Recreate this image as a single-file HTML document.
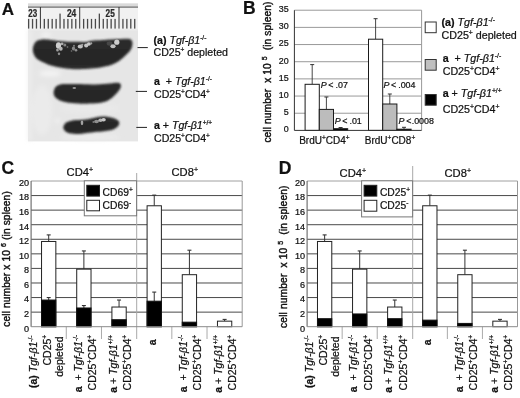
<!DOCTYPE html>
<html><head><meta charset="utf-8"><style>
html,body{margin:0;padding:0;background:#fff;width:520px;height:398px;overflow:hidden;}
svg{display:block;filter:blur(0.35px);}
text{font-family:"Liberation Sans", sans-serif;stroke:#111;stroke-width:0.22px;}
</style></head><body>
<svg width="520" height="398" viewBox="0 0 520 398" font-family='"Liberation Sans", sans-serif' fill="#111">
<defs><linearGradient id="pg" x1="0" y1="0" x2="1" y2="0"><stop offset="0" stop-color="#d9d9d9"/><stop offset="0.1" stop-color="#e4e4e4"/><stop offset="0.85" stop-color="#e2e2e2"/><stop offset="1" stop-color="#cfcfcf"/></linearGradient>
<linearGradient id="sg" x1="0" y1="0" x2="0" y2="1"><stop offset="0" stop-color="#2e2e2e"/><stop offset="0.5" stop-color="#262626"/><stop offset="1" stop-color="#2a2a2a"/></linearGradient><filter id="bl" x="-10%" y="-20%" width="120%" height="140%"><feGaussianBlur stdDeviation="0.8"/></filter>
<filter id="bl2" x="-50%" y="-50%" width="200%" height="200%"><feGaussianBlur stdDeviation="0.7"/></filter><filter id="bl4" x="-50%" y="-50%" width="200%" height="200%"><feGaussianBlur stdDeviation="2"/></filter></defs>
<rect width="520" height="398" fill="#fff"/>
<text x="1.8" y="14.5" font-size="17" font-weight="bold">A</text>
<rect x="28" y="3.5" width="110" height="137.9" fill="#e6e6e6"/>
<g filter="url(#bl4)">
<rect x="28" y="30" width="3" height="111" fill="#eeeeee"/>
<ellipse cx="50" cy="73.5" rx="11" ry="2.8" fill="#f4f4f4"/>
<ellipse cx="46" cy="35" rx="5" ry="3" fill="#f0f0f0"/>
<ellipse cx="90" cy="108" rx="30" ry="5" fill="#e9e9e9"/>
<ellipse cx="90" cy="137" rx="30" ry="3" fill="#ececec"/>
<ellipse cx="42" cy="110" rx="10" ry="25" fill="#ebebeb"/>
<ellipse cx="57.5" cy="120.7" rx="2" ry="2" fill="#f6f6f6"/>
</g>
<rect x="28" y="3.5" width="110" height="3.5" fill="#dadada"/>
<rect x="28" y="7.5" width="110" height="21.5" fill="#f1f1f1"/>
<rect x="28" y="29" width="110" height="1.5" fill="#ebebeb"/>
<rect x="28" y="6.6" width="110" height="1" fill="#555"/>
<rect x="27.96" y="18.9" width="1.3" height="9.7" fill="#4a4a4a"/>
<rect x="31.89" y="18.9" width="1.3" height="9.7" fill="#4a4a4a"/>
<rect x="35.82" y="18.9" width="1.3" height="9.7" fill="#4a4a4a"/>
<rect x="39.9" y="7" width="1" height="21.6" fill="#333"/>
<rect x="43.68" y="18.9" width="1.3" height="9.7" fill="#4a4a4a"/>
<rect x="47.61" y="18.9" width="1.3" height="9.7" fill="#4a4a4a"/>
<rect x="51.54" y="18.9" width="1.3" height="9.7" fill="#4a4a4a"/>
<rect x="55.47" y="18.9" width="1.3" height="9.7" fill="#4a4a4a"/>
<rect x="59.4" y="13.6" width="1.3" height="15" fill="#4a4a4a"/>
<rect x="63.33" y="18.9" width="1.3" height="9.7" fill="#4a4a4a"/>
<rect x="67.26" y="18.9" width="1.3" height="9.7" fill="#4a4a4a"/>
<rect x="71.19" y="18.9" width="1.3" height="9.7" fill="#4a4a4a"/>
<rect x="75.12" y="18.9" width="1.3" height="9.7" fill="#4a4a4a"/>
<rect x="79.2" y="7" width="1" height="21.6" fill="#333"/>
<rect x="82.98" y="18.9" width="1.3" height="9.7" fill="#4a4a4a"/>
<rect x="86.91" y="18.9" width="1.3" height="9.7" fill="#4a4a4a"/>
<rect x="90.84" y="18.9" width="1.3" height="9.7" fill="#4a4a4a"/>
<rect x="94.77" y="18.9" width="1.3" height="9.7" fill="#4a4a4a"/>
<rect x="98.7" y="13.6" width="1.3" height="15" fill="#4a4a4a"/>
<rect x="102.63" y="18.9" width="1.3" height="9.7" fill="#4a4a4a"/>
<rect x="106.56" y="18.9" width="1.3" height="9.7" fill="#4a4a4a"/>
<rect x="110.49" y="18.9" width="1.3" height="9.7" fill="#4a4a4a"/>
<rect x="114.42" y="18.9" width="1.3" height="9.7" fill="#4a4a4a"/>
<rect x="118.5" y="7" width="1" height="21.6" fill="#333"/>
<rect x="122.28" y="18.9" width="1.3" height="9.7" fill="#4a4a4a"/>
<rect x="126.21" y="18.9" width="1.3" height="9.7" fill="#4a4a4a"/>
<rect x="130.14" y="18.9" width="1.3" height="9.7" fill="#4a4a4a"/>
<rect x="134.07" y="18.9" width="1.3" height="9.7" fill="#4a4a4a"/>
<g font-size="10.6" font-weight="bold" fill="#2a2a2a">
<text x="28.3" y="16.8" textLength="8.9" lengthAdjust="spacingAndGlyphs">23</text>
<text x="66.9" y="16.8" textLength="9.4" lengthAdjust="spacingAndGlyphs">24</text>
<text x="105.6" y="16.8" textLength="9.2" lengthAdjust="spacingAndGlyphs">25</text>
</g>
<g filter="url(#bl)" fill="url(#sg)">
<path d="M32.8,50.5 C32.6,48.5 33.3,46.1 34.0,44.5 C34.7,42.9 35.7,41.6 37.0,40.8 C38.3,39.9 39.7,39.5 42.0,39.4 C44.3,39.2 47.6,39.6 51.0,39.9 C54.4,40.2 58.8,40.9 62.6,41.2 C66.4,41.5 70.2,41.7 74.0,41.8 C77.8,41.9 82.8,42.1 85.7,41.9 C88.6,41.7 88.6,41.0 91.5,40.7 C94.4,40.4 99.2,40.1 103.0,39.9 C106.8,39.6 110.8,39.4 114.6,39.2 C118.4,39.0 123.4,38.7 126.0,38.7 C128.6,38.7 129.2,38.6 130.3,39.3 C131.4,40.0 132.4,41.1 132.5,42.7 C132.6,44.4 132.1,47.2 131.0,49.2 C129.9,51.2 128.0,53.0 126.2,54.8 C124.4,56.6 122.3,58.5 120.4,60.0 C118.5,61.5 116.5,62.5 114.6,63.5 C112.7,64.5 110.7,65.2 108.8,65.8 C106.9,66.4 105.9,66.4 103.0,66.9 C100.1,67.4 95.3,68.2 91.5,68.6 C87.7,69.0 82.9,69.1 80.0,69.2 C77.1,69.3 77.1,69.4 74.2,69.2 C71.3,69.0 66.5,68.6 62.6,68.0 C58.7,67.4 54.9,66.8 51.0,65.6 C47.1,64.4 42.2,62.1 39.5,60.6 C36.8,59.1 36.1,58.2 35.0,56.5 C33.9,54.8 33.0,52.5 32.8,50.5 Z"/>
<path d="M53.6,92.5 C53.7,90.8 54.4,88.3 55.5,87.0 C56.6,85.7 58.2,85.0 60.0,84.5 C61.8,84.0 63.1,84.1 66.0,84.0 C68.9,83.9 72.9,84.0 77.2,84.1 C81.5,84.2 86.9,84.5 91.8,84.5 C96.7,84.5 102.3,84.1 106.5,83.8 C110.7,83.5 114.4,82.8 116.7,82.8 C119.0,82.8 119.6,83.1 120.3,83.8 C121.0,84.5 121.1,85.7 120.8,87.0 C120.5,88.3 119.6,89.8 118.2,91.5 C116.8,93.2 114.2,95.9 112.3,97.5 C110.3,99.1 108.7,100.3 106.5,101.2 C104.3,102.1 101.7,102.5 99.2,102.9 C96.8,103.3 95.5,103.3 91.8,103.4 C88.1,103.5 81.5,103.8 77.2,103.6 C72.9,103.4 69.0,102.9 66.0,102.3 C63.0,101.7 60.8,100.9 59.0,100.0 C57.2,99.1 55.9,98.2 55.0,97.0 C54.1,95.8 53.5,94.2 53.6,92.5 Z"/>
<path d="M63.3,127.0 C63.4,125.8 64.5,124.0 65.5,123.0 C66.5,122.0 67.9,121.7 69.5,121.2 C71.1,120.7 73.1,120.3 75.2,120.1 C77.3,119.8 79.7,119.9 81.9,119.7 C84.1,119.5 86.3,119.4 88.6,119.0 C90.8,118.6 93.2,117.8 95.4,117.4 C97.7,117.0 99.9,116.7 102.1,116.6 C104.3,116.5 106.7,116.7 108.8,117.0 C110.9,117.3 113.0,117.9 114.6,118.6 C116.2,119.3 117.8,120.1 118.6,121.0 C119.4,121.9 119.5,123.0 119.2,124.0 C118.9,125.0 118.2,126.3 116.9,127.3 C115.6,128.3 114.0,129.4 111.5,130.1 C109.0,130.8 104.8,131.2 102.1,131.5 C99.4,131.8 97.7,131.7 95.4,131.9 C93.2,132.1 90.8,132.5 88.6,132.8 C86.3,133.1 84.1,133.5 81.9,133.7 C79.7,133.9 77.4,134.1 75.2,134.0 C73.0,133.9 70.3,133.7 68.5,133.1 C66.7,132.5 65.5,131.5 64.6,130.5 C63.7,129.5 63.1,128.2 63.3,127.0 Z"/>
</g>
<g filter="url(#bl2)">
<ellipse cx="58.5" cy="45.5" rx="2.6" ry="3.2" fill="#cfcfcf"/>
<ellipse cx="60.8" cy="48.8" rx="1.9" ry="2.0" fill="#b8b8b8"/>
<ellipse cx="57.5" cy="50" rx="1.4" ry="1.6" fill="#a0a0a0"/>
<ellipse cx="59" cy="53.8" rx="1.2" ry="1.4" fill="#909090"/>
<ellipse cx="62" cy="43.8" rx="1.5" ry="1.4" fill="#b0b0b0"/>
<ellipse cx="64.8" cy="45" rx="1.5" ry="1.6" fill="#858585"/>
<ellipse cx="67.5" cy="47" rx="0.9" ry="0.9" fill="#6a6a6a"/>
<ellipse cx="73.5" cy="48.5" rx="1.6" ry="2.0" fill="#888"/>
<ellipse cx="76" cy="50.3" rx="1.3" ry="1.3" fill="#909090"/>
<ellipse cx="74" cy="45.8" rx="1.1" ry="1.1" fill="#7a7a7a"/>
<ellipse cx="71.5" cy="51" rx="0.8" ry="0.8" fill="#777"/>
<ellipse cx="80.3" cy="46.5" rx="2.6" ry="2.0" fill="#c0c0c0"/>
<ellipse cx="82.2" cy="44.8" rx="1.2" ry="1.1" fill="#a0a0a0"/>
<ellipse cx="86.2" cy="45.5" rx="2.1" ry="2.0" fill="#c4c4c4"/>
<ellipse cx="88.9" cy="44" rx="2.0" ry="1.8" fill="#c8c8c8"/>
<ellipse cx="91.2" cy="43.4" rx="1.1" ry="1.1" fill="#a0a0a0"/>
<ellipse cx="109.5" cy="43.5" rx="2.8" ry="2.2" fill="#474747"/>
<ellipse cx="116.8" cy="42.2" rx="2.6" ry="2.6" fill="#cdcdcd"/>
<ellipse cx="113" cy="46.3" rx="2.6" ry="2.0" fill="#c0c0c0"/>
<ellipse cx="74.3" cy="88" rx="1.8" ry="1.0" fill="#959595"/>
<ellipse cx="82" cy="122.8" rx="1.3" ry="2.4" fill="#a2a2a2"/>
<ellipse cx="96.5" cy="121.5" rx="2.4" ry="1.8" fill="#909090"/>
<ellipse cx="100.5" cy="120.2" rx="2.2" ry="1.7" fill="#b2b2b2"/>
<ellipse cx="103.6" cy="119.8" rx="2.2" ry="1.8" fill="#c6c6c6"/>
<ellipse cx="93.5" cy="122" rx="1.1" ry="1.1" fill="#7a7a7a"/>
</g>
<g stroke="#222" stroke-width="1">
<line x1="137.5" y1="47.6" x2="147.8" y2="47.6"/>
<line x1="135.8" y1="91.4" x2="147" y2="91.4"/>
<line x1="136.3" y1="127.4" x2="147" y2="127.4"/>
</g>
<g font-size="10.6">
<text x="153.5" y="43.5"><tspan font-weight="bold">(a)</tspan> <tspan font-style="italic">Tgf-β1</tspan><tspan font-size="6.5" dy="-4">-/-</tspan></text>
<text x="153.5" y="55.5">CD25<tspan font-size="6.5" dy="-4">+</tspan><tspan dy="4"> depleted</tspan></text>
<text x="154" y="85"><tspan font-weight="bold">a</tspan>&#160; + <tspan font-style="italic">Tgf-β1</tspan><tspan font-size="6.5" dy="-4">-/-</tspan></text>
<text x="154" y="97.5">CD25<tspan font-size="6.5" dy="-4">+</tspan><tspan dy="4">CD4</tspan><tspan font-size="6.5" dy="-4">+</tspan></text>
<text x="154" y="128.7"><tspan font-weight="bold">a</tspan> + <tspan font-style="italic">Tgf-β1</tspan><tspan font-size="6.5" dy="-4">+/+</tspan></text>
<text x="154" y="141.5">CD25<tspan font-size="6.5" dy="-4">+</tspan><tspan dy="4">CD4</tspan><tspan font-size="6.5" dy="-4">+</tspan></text>
</g>
<text x="242.9" y="13.8" font-size="17.5" font-weight="bold">B</text>
<g stroke="#999" stroke-width="1">
<line x1="294.4" y1="113.23" x2="421.6" y2="113.23"/>
<line x1="294.4" y1="96.06" x2="421.6" y2="96.06"/>
<line x1="294.4" y1="78.89" x2="421.6" y2="78.89"/>
<line x1="294.4" y1="61.72" x2="421.6" y2="61.72"/>
<line x1="294.4" y1="44.55" x2="421.6" y2="44.55"/>
<line x1="294.4" y1="27.38" x2="421.6" y2="27.38"/>
<line x1="294.4" y1="10.21" x2="421.6" y2="10.21"/>
<line x1="421.6" y1="10.21" x2="421.6" y2="130.4"/>
</g>
<line x1="312.2" y1="84.3" x2="312.2" y2="64.6" stroke="#333" stroke-width="0.9"/>
<line x1="310.2" y1="64.6" x2="314.2" y2="64.6" stroke="#333" stroke-width="1"/>
<rect x="305.1" y="84.3" width="14.2" height="46.1" fill="#fff" stroke="#1a1a1a" stroke-width="1"/>
<line x1="326.4" y1="109.4" x2="326.4" y2="97" stroke="#333" stroke-width="0.9"/>
<line x1="324.4" y1="97" x2="328.4" y2="97" stroke="#333" stroke-width="1"/>
<rect x="319.3" y="109.4" width="14.2" height="21" fill="#bcbcbc" stroke="#1a1a1a" stroke-width="1"/>
<line x1="340.6" y1="128.7" x2="340.6" y2="127.5" stroke="#333" stroke-width="0.9"/>
<line x1="338.6" y1="127.5" x2="342.6" y2="127.5" stroke="#333" stroke-width="1"/>
<rect x="333.5" y="128.7" width="14.2" height="1.7" fill="#000" stroke="#1a1a1a" stroke-width="1"/>
<line x1="375.6" y1="39.2" x2="375.6" y2="18.7" stroke="#333" stroke-width="0.9"/>
<line x1="373.6" y1="18.7" x2="377.6" y2="18.7" stroke="#333" stroke-width="1"/>
<rect x="368.5" y="39.2" width="14.2" height="91.2" fill="#fff" stroke="#1a1a1a" stroke-width="1"/>
<line x1="389.8" y1="104" x2="389.8" y2="94" stroke="#333" stroke-width="0.9"/>
<line x1="387.8" y1="94" x2="391.8" y2="94" stroke="#333" stroke-width="1"/>
<rect x="382.7" y="104" width="14.2" height="26.4" fill="#bcbcbc" stroke="#1a1a1a" stroke-width="1"/>
<line x1="404" y1="129.2" x2="404" y2="127.3" stroke="#333" stroke-width="0.9"/>
<line x1="402" y1="127.3" x2="406" y2="127.3" stroke="#333" stroke-width="1"/>
<rect x="396.9" y="129.2" width="14.2" height="1.2" fill="#000" stroke="#1a1a1a" stroke-width="1"/>
<line x1="294.4" y1="10.21" x2="294.4" y2="130.4" stroke="#333" stroke-width="1"/>
<line x1="294.4" y1="130.4" x2="421.6" y2="130.4" stroke="#333" stroke-width="1"/>
<g font-size="8.9" text-anchor="end">
<text x="288.7" y="132.3">0</text>
<text x="288.7" y="115.13">5</text>
<text x="288.7" y="97.96">10</text>
<text x="288.7" y="80.79">15</text>
<text x="288.7" y="63.62">20</text>
<text x="288.7" y="46.45">25</text>
<text x="288.7" y="29.28">30</text>
<text x="288.7" y="12.11">35</text>
</g>
<text transform="translate(270.5,142.6) rotate(-90)" font-size="10.2" style="stroke-width:0.4px" textLength="141" lengthAdjust="spacing">cell number&#160; x 10 <tspan font-size="7" dy="-4">5</tspan><tspan dy="4">&#160; (in spleen)</tspan></text>
<g font-size="8.9">
<text x="320.8" y="87.7"><tspan font-style="italic">P</tspan><tspan dx="1.6">&lt;</tspan><tspan dx="-0.4"> .07</tspan></text>
<text x="334.7" y="123.7"><tspan font-style="italic">P</tspan><tspan dx="1.6">&lt;</tspan><tspan dx="-0.4"> .01</tspan></text>
<text x="383.4" y="88.2"><tspan font-style="italic">P</tspan><tspan dx="1.6">&lt;</tspan><tspan dx="-0.4"> .004</tspan></text>
<text x="398.5" y="123.6"><tspan font-style="italic">P</tspan><tspan dx="1.8">&lt;</tspan><tspan dx="0.3">.0008</tspan></text>
</g>
<g font-size="10">
<text x="299.2" y="144">BrdU<tspan font-size="6.5" dy="-4">+</tspan><tspan dy="4">​</tspan>CD4<tspan font-size="6.5" dy="-4">+</tspan><tspan dy="4">​</tspan></text>
<text x="364.8" y="143.6">BrdU<tspan font-size="6.5" dy="-4">+</tspan><tspan dy="4">​</tspan>CD8<tspan font-size="6.5" dy="-4">+</tspan><tspan dy="4">​</tspan></text>
</g>
<rect x="425.2" y="22" width="11" height="10.7" fill="#fff" stroke="#333" stroke-width="1"/>
<rect x="425.2" y="59.5" width="11" height="10.7" fill="#c0c0c0" stroke="#333" stroke-width="1"/>
<rect x="425.2" y="94.5" width="11" height="10.7" fill="#000" stroke="#333" stroke-width="1"/>
<g font-size="10.7" style="white-space:pre">
<text x="441.5" y="26.4"><tspan font-weight="bold">(a)</tspan> <tspan font-style="italic">Tgf-β1</tspan><tspan font-size="6.8" dy="-4">-/-</tspan><tspan dy="4">​</tspan></text>
<text x="441.5" y="39">CD25<tspan font-size="6.8" dy="-4">+</tspan><tspan dy="4">​</tspan> depleted</text>
<text x="442.7" y="62"><tspan font-weight="bold">a</tspan>&#160; + <tspan font-style="italic">Tgf-β1</tspan><tspan font-size="6.8" dy="-4">-/-</tspan><tspan dy="4">​</tspan></text>
<text x="442.7" y="75">CD25<tspan font-size="6.8" dy="-4">+</tspan><tspan dy="4">​</tspan>CD4<tspan font-size="6.8" dy="-4">+</tspan><tspan dy="4">​</tspan></text>
<text x="442.7" y="97.3"><tspan font-weight="bold">a</tspan> + <tspan font-style="italic">Tgf-β1</tspan><tspan font-size="6.8" dy="-4">+/+</tspan><tspan dy="4">​</tspan></text>
<text x="442.7" y="112.5">CD25<tspan font-size="6.8" dy="-4">+</tspan><tspan dy="4">​</tspan>CD4<tspan font-size="6.8" dy="-4">+</tspan><tspan dy="4">​</tspan></text>
</g>
<text x="1.6" y="173.6" font-size="17.5" font-weight="bold">C</text>
<line x1="31.1" y1="312.13" x2="242.2" y2="312.13" stroke="#4a4a4a" stroke-width="1"/>
<line x1="31.1" y1="297.56" x2="242.2" y2="297.56" stroke="#4a4a4a" stroke-width="1"/>
<line x1="31.1" y1="282.99" x2="242.2" y2="282.99" stroke="#4a4a4a" stroke-width="1"/>
<line x1="31.1" y1="268.42" x2="242.2" y2="268.42" stroke="#4a4a4a" stroke-width="1"/>
<line x1="31.1" y1="253.85" x2="242.2" y2="253.85" stroke="#4a4a4a" stroke-width="1"/>
<line x1="31.1" y1="239.28" x2="242.2" y2="239.28" stroke="#4a4a4a" stroke-width="1"/>
<line x1="31.1" y1="224.71" x2="242.2" y2="224.71" stroke="#4a4a4a" stroke-width="1"/>
<line x1="31.1" y1="210.14" x2="242.2" y2="210.14" stroke="#4a4a4a" stroke-width="1"/>
<line x1="31.1" y1="195.57" x2="242.2" y2="195.57" stroke="#4a4a4a" stroke-width="1"/>
<line x1="31.1" y1="181" x2="242.2" y2="181" stroke="#a0a0a0" stroke-width="1"/>
<line x1="242.2" y1="181" x2="242.2" y2="326.7" stroke="#999" stroke-width="1"/>
<line x1="136.7" y1="173" x2="136.7" y2="339" stroke="#a8a8a8" stroke-width="1"/>
<line x1="48.69" y1="241.47" x2="48.69" y2="234.91" stroke="#333" stroke-width="1"/>
<line x1="46.69" y1="234.91" x2="50.69" y2="234.91" stroke="#333" stroke-width="1.1"/>
<rect x="41.54" y="241.47" width="14.3" height="85.23" fill="#fff" stroke="#222" stroke-width="1"/>
<line x1="48.69" y1="300.04" x2="48.69" y2="297.56" stroke="#333" stroke-width="1"/>
<line x1="46.69" y1="297.56" x2="50.69" y2="297.56" stroke="#333" stroke-width="1.1"/>
<rect x="41.54" y="300.04" width="14.3" height="26.66" fill="#000" stroke="#111" stroke-width="1"/>
<line x1="83.88" y1="269.15" x2="83.88" y2="250.94" stroke="#333" stroke-width="1"/>
<line x1="81.88" y1="250.94" x2="85.88" y2="250.94" stroke="#333" stroke-width="1.1"/>
<rect x="76.72" y="269.15" width="14.3" height="57.55" fill="#fff" stroke="#222" stroke-width="1"/>
<line x1="83.88" y1="307.98" x2="83.88" y2="305.57" stroke="#333" stroke-width="1"/>
<line x1="81.88" y1="305.57" x2="85.88" y2="305.57" stroke="#333" stroke-width="1.1"/>
<rect x="76.72" y="307.98" width="14.3" height="18.72" fill="#000" stroke="#111" stroke-width="1"/>
<line x1="119.06" y1="307.03" x2="119.06" y2="300.04" stroke="#333" stroke-width="1"/>
<line x1="117.06" y1="300.04" x2="121.06" y2="300.04" stroke="#333" stroke-width="1.1"/>
<rect x="111.91" y="307.03" width="14.3" height="19.67" fill="#fff" stroke="#222" stroke-width="1"/>
<rect x="111.91" y="319.71" width="14.3" height="6.99" fill="#000" stroke="#111" stroke-width="1"/>
<line x1="154.24" y1="205.77" x2="154.24" y2="195.13" stroke="#333" stroke-width="1"/>
<line x1="152.24" y1="195.13" x2="156.24" y2="195.13" stroke="#333" stroke-width="1.1"/>
<rect x="147.09" y="205.77" width="14.3" height="120.93" fill="#fff" stroke="#222" stroke-width="1"/>
<line x1="154.24" y1="301.2" x2="154.24" y2="292.1" stroke="#333" stroke-width="1"/>
<line x1="152.24" y1="292.1" x2="156.24" y2="292.1" stroke="#333" stroke-width="1.1"/>
<rect x="147.09" y="301.2" width="14.3" height="25.5" fill="#000" stroke="#111" stroke-width="1"/>
<line x1="189.42" y1="274.69" x2="189.42" y2="250.21" stroke="#333" stroke-width="1"/>
<line x1="187.42" y1="250.21" x2="191.42" y2="250.21" stroke="#333" stroke-width="1.1"/>
<rect x="182.27" y="274.69" width="14.3" height="52.01" fill="#fff" stroke="#222" stroke-width="1"/>
<rect x="182.27" y="322.18" width="14.3" height="4.52" fill="#000" stroke="#111" stroke-width="1"/>
<line x1="224.61" y1="321.16" x2="224.61" y2="319.41" stroke="#333" stroke-width="1"/>
<line x1="222.61" y1="319.41" x2="226.61" y2="319.41" stroke="#333" stroke-width="1.1"/>
<rect x="217.46" y="321.16" width="14.3" height="5.54" fill="#fff" stroke="#222" stroke-width="1"/>
<line x1="66.28" y1="326.7" x2="66.28" y2="339" stroke="#aaa" stroke-width="1"/>
<line x1="101.47" y1="326.7" x2="101.47" y2="339" stroke="#aaa" stroke-width="1"/>
<line x1="171.83" y1="326.7" x2="171.83" y2="339" stroke="#aaa" stroke-width="1"/>
<line x1="207.02" y1="326.7" x2="207.02" y2="339" stroke="#aaa" stroke-width="1"/>
<line x1="31.1" y1="181" x2="31.1" y2="326.7" stroke="#666" stroke-width="1.1"/>
<line x1="31.1" y1="326.7" x2="242.2" y2="326.7" stroke="#8a8a8a" stroke-width="1"/>
<rect x="84.3" y="180.8" width="52.3" height="35" fill="#fff" stroke="#777" stroke-width="1"/>
<rect x="86.8" y="185.3" width="12.7" height="10.8" fill="#000" stroke="#222" stroke-width="1"/>
<rect x="86.8" y="200.3" width="12.7" height="10.5" fill="#fff" stroke="#222" stroke-width="1"/>
<g font-size="10.3">
<text x="102.6" y="195.9">CD69<tspan font-size="6.5" dy="-4">+</tspan></text>
<text x="102.6" y="208.7">CD69<tspan font-size="6.5" dy="-4">-</tspan></text>
</g>
<g font-size="11.2">
<text x="66.6" y="175.8">CD4<tspan font-size="7" dy="-4">+</tspan></text>
<text x="171.5" y="175.8">CD8<tspan font-size="7" dy="-4">+</tspan></text>
</g>
<g font-size="9.1" text-anchor="end">
<text x="29" y="331.6">0</text>
<text x="29" y="317.03">2</text>
<text x="29" y="302.46">4</text>
<text x="29" y="287.89">6</text>
<text x="29" y="273.32">8</text>
<text x="29" y="258.75">10</text>
<text x="29" y="244.18">12</text>
<text x="29" y="229.61">14</text>
<text x="29" y="215.04">16</text>
<text x="29" y="200.47">18</text>
<text x="29" y="185.9">20</text>
</g>
<text transform="translate(10.3,326.7) rotate(-90)" font-size="10.2" style="stroke-width:0.4px" textLength="135.5" lengthAdjust="spacing">cell number x 10 <tspan font-size="7" dy="-4">6</tspan><tspan dy="4"> (in spleen)</tspan></text>
<text transform="translate(37.49,335.5) rotate(-90)" text-anchor="end" font-size="10.5"><tspan font-weight="bold">(a)</tspan> <tspan font-style="italic">Tgf-β1</tspan><tspan font-size="6.6" dy="-4">-/-</tspan></text>
<text transform="translate(51.29,334.8) rotate(-90)" text-anchor="end" font-size="10.5">CD25<tspan font-size="6.6" dy="-4">+</tspan></text>
<text transform="translate(62.99,336.5) rotate(-90)" text-anchor="end" font-size="10.5">depleted</text>
<text transform="translate(81.58,334.8) rotate(-90)" text-anchor="end" font-size="10.5"><tspan font-weight="bold">a</tspan>&#160; + <tspan font-style="italic">Tgf-β1</tspan><tspan font-size="6.6" dy="-4">-/-</tspan></text>
<text transform="translate(95.67,334.8) rotate(-90)" text-anchor="end" font-size="10.5">CD25<tspan font-size="6.6" dy="-4">+</tspan><tspan dy="4">CD4</tspan><tspan font-size="6.6" dy="-4">+</tspan></text>
<text transform="translate(116.76,334.8) rotate(-90)" text-anchor="end" font-size="10.5"><tspan font-weight="bold">a</tspan> + <tspan font-style="italic">Tgf-β1</tspan><tspan font-size="6.6" dy="-4">+/+</tspan></text>
<text transform="translate(130.86,334.8) rotate(-90)" text-anchor="end" font-size="10.5">CD25<tspan font-size="6.6" dy="-4">+</tspan><tspan dy="4">CD4</tspan><tspan font-size="6.6" dy="-4">+</tspan></text>
<text transform="translate(187.12,334.8) rotate(-90)" text-anchor="end" font-size="10.5"><tspan font-weight="bold">a</tspan>&#160; + <tspan font-style="italic">Tgf-β1</tspan><tspan font-size="6.6" dy="-4">-/-</tspan></text>
<text transform="translate(201.22,334.8) rotate(-90)" text-anchor="end" font-size="10.5">CD25<tspan font-size="6.6" dy="-4">+</tspan><tspan dy="4">CD4</tspan><tspan font-size="6.6" dy="-4">+</tspan></text>
<text transform="translate(222.31,334.8) rotate(-90)" text-anchor="end" font-size="10.5"><tspan font-weight="bold">a</tspan> + <tspan font-style="italic">Tgf-β1</tspan><tspan font-size="6.6" dy="-4">+/+</tspan></text>
<text transform="translate(236.41,334.8) rotate(-90)" text-anchor="end" font-size="10.5">CD25<tspan font-size="6.6" dy="-4">+</tspan><tspan dy="4">CD4</tspan><tspan font-size="6.6" dy="-4">+</tspan></text>
<text transform="translate(155.84,339.5) rotate(-90)" text-anchor="end" font-size="10.5"><tspan font-weight="bold">a</tspan></text>
<text x="278.7" y="173.6" font-size="17.5" font-weight="bold">D</text>
<line x1="307.1" y1="312.13" x2="517.5" y2="312.13" stroke="#4a4a4a" stroke-width="1"/>
<line x1="307.1" y1="297.56" x2="517.5" y2="297.56" stroke="#4a4a4a" stroke-width="1"/>
<line x1="307.1" y1="282.99" x2="517.5" y2="282.99" stroke="#4a4a4a" stroke-width="1"/>
<line x1="307.1" y1="268.42" x2="517.5" y2="268.42" stroke="#4a4a4a" stroke-width="1"/>
<line x1="307.1" y1="253.85" x2="517.5" y2="253.85" stroke="#4a4a4a" stroke-width="1"/>
<line x1="307.1" y1="239.28" x2="517.5" y2="239.28" stroke="#4a4a4a" stroke-width="1"/>
<line x1="307.1" y1="224.71" x2="517.5" y2="224.71" stroke="#4a4a4a" stroke-width="1"/>
<line x1="307.1" y1="210.14" x2="517.5" y2="210.14" stroke="#4a4a4a" stroke-width="1"/>
<line x1="307.1" y1="195.57" x2="517.5" y2="195.57" stroke="#4a4a4a" stroke-width="1"/>
<line x1="307.1" y1="181" x2="517.5" y2="181" stroke="#a0a0a0" stroke-width="1"/>
<line x1="517.5" y1="181" x2="517.5" y2="326.7" stroke="#999" stroke-width="1"/>
<line x1="412.7" y1="166" x2="412.7" y2="339" stroke="#a8a8a8" stroke-width="1"/>
<line x1="324.63" y1="241.47" x2="324.63" y2="234.91" stroke="#333" stroke-width="1"/>
<line x1="322.63" y1="234.91" x2="326.63" y2="234.91" stroke="#333" stroke-width="1.1"/>
<rect x="317.48" y="241.47" width="14.3" height="85.23" fill="#fff" stroke="#222" stroke-width="1"/>
<rect x="317.48" y="318.69" width="14.3" height="8.01" fill="#000" stroke="#111" stroke-width="1"/>
<line x1="359.7" y1="269.15" x2="359.7" y2="250.94" stroke="#333" stroke-width="1"/>
<line x1="357.7" y1="250.94" x2="361.7" y2="250.94" stroke="#333" stroke-width="1.1"/>
<rect x="352.55" y="269.15" width="14.3" height="57.55" fill="#fff" stroke="#222" stroke-width="1"/>
<rect x="352.55" y="313.95" width="14.3" height="12.75" fill="#000" stroke="#111" stroke-width="1"/>
<line x1="394.77" y1="307.03" x2="394.77" y2="300.04" stroke="#333" stroke-width="1"/>
<line x1="392.77" y1="300.04" x2="396.77" y2="300.04" stroke="#333" stroke-width="1.1"/>
<rect x="387.62" y="307.03" width="14.3" height="19.67" fill="#fff" stroke="#222" stroke-width="1"/>
<rect x="387.62" y="318.69" width="14.3" height="8.01" fill="#000" stroke="#111" stroke-width="1"/>
<line x1="429.83" y1="205.77" x2="429.83" y2="195.13" stroke="#333" stroke-width="1"/>
<line x1="427.83" y1="195.13" x2="431.83" y2="195.13" stroke="#333" stroke-width="1.1"/>
<rect x="422.68" y="205.77" width="14.3" height="120.93" fill="#fff" stroke="#222" stroke-width="1"/>
<rect x="422.68" y="320.14" width="14.3" height="6.56" fill="#000" stroke="#111" stroke-width="1"/>
<line x1="464.9" y1="274.69" x2="464.9" y2="250.21" stroke="#333" stroke-width="1"/>
<line x1="462.9" y1="250.21" x2="466.9" y2="250.21" stroke="#333" stroke-width="1.1"/>
<rect x="457.75" y="274.69" width="14.3" height="52.01" fill="#fff" stroke="#222" stroke-width="1"/>
<rect x="457.75" y="323.42" width="14.3" height="3.28" fill="#000" stroke="#111" stroke-width="1"/>
<line x1="499.97" y1="321.16" x2="499.97" y2="319.41" stroke="#333" stroke-width="1"/>
<line x1="497.97" y1="319.41" x2="501.97" y2="319.41" stroke="#333" stroke-width="1.1"/>
<rect x="492.82" y="321.16" width="14.3" height="5.54" fill="#fff" stroke="#222" stroke-width="1"/>
<line x1="342.17" y1="326.7" x2="342.17" y2="339" stroke="#aaa" stroke-width="1"/>
<line x1="377.23" y1="326.7" x2="377.23" y2="339" stroke="#aaa" stroke-width="1"/>
<line x1="447.37" y1="326.7" x2="447.37" y2="339" stroke="#aaa" stroke-width="1"/>
<line x1="482.43" y1="326.7" x2="482.43" y2="339" stroke="#aaa" stroke-width="1"/>
<line x1="307.1" y1="181" x2="307.1" y2="326.7" stroke="#666" stroke-width="1.1"/>
<line x1="307.1" y1="326.7" x2="517.5" y2="326.7" stroke="#8a8a8a" stroke-width="1"/>
<rect x="361.6" y="180.8" width="51.0" height="36.1" fill="#fff" stroke="#777" stroke-width="1"/>
<rect x="364.1" y="185.3" width="12.7" height="10.8" fill="#000" stroke="#222" stroke-width="1"/>
<rect x="364.1" y="200.3" width="12.7" height="10.9" fill="#fff" stroke="#222" stroke-width="1"/>
<g font-size="10.3">
<text x="379.9" y="195.9">CD25<tspan font-size="6.5" dy="-4">+</tspan></text>
<text x="379.9" y="208.7">CD25<tspan font-size="6.5" dy="-4">-</tspan></text>
</g>
<g font-size="11.2">
<text x="339.6" y="177.2">CD4<tspan font-size="7" dy="-4">+</tspan></text>
<text x="444.5" y="177.2">CD8<tspan font-size="7" dy="-4">+</tspan></text>
</g>
<g font-size="9.1" text-anchor="end">
<text x="305" y="331.6">0</text>
<text x="305" y="317.03">2</text>
<text x="305" y="302.46">4</text>
<text x="305" y="287.89">6</text>
<text x="305" y="273.32">8</text>
<text x="305" y="258.75">10</text>
<text x="305" y="244.18">12</text>
<text x="305" y="229.61">14</text>
<text x="305" y="215.04">16</text>
<text x="305" y="200.47">18</text>
<text x="305" y="185.9">20</text>
</g>
<text transform="translate(287.3,327.9) rotate(-90)" font-size="10.2" style="stroke-width:0.4px" textLength="142.4" lengthAdjust="spacing">cell number&#160; x 10 <tspan font-size="7" dy="-4">5</tspan><tspan dy="4">&#160; (in spleen)</tspan></text>
<text transform="translate(313.43,335.5) rotate(-90)" text-anchor="end" font-size="10.5"><tspan font-weight="bold">(a)</tspan> <tspan font-style="italic">Tgf-β1</tspan><tspan font-size="6.6" dy="-4">-/-</tspan></text>
<text transform="translate(327.23,334.8) rotate(-90)" text-anchor="end" font-size="10.5">CD25<tspan font-size="6.6" dy="-4">+</tspan></text>
<text transform="translate(338.93,336.5) rotate(-90)" text-anchor="end" font-size="10.5">depleted</text>
<text transform="translate(357.4,334.8) rotate(-90)" text-anchor="end" font-size="10.5"><tspan font-weight="bold">a</tspan>&#160; + <tspan font-style="italic">Tgf-β1</tspan><tspan font-size="6.6" dy="-4">-/-</tspan></text>
<text transform="translate(371.5,334.8) rotate(-90)" text-anchor="end" font-size="10.5">CD25<tspan font-size="6.6" dy="-4">+</tspan><tspan dy="4">CD4</tspan><tspan font-size="6.6" dy="-4">+</tspan></text>
<text transform="translate(392.47,334.8) rotate(-90)" text-anchor="end" font-size="10.5"><tspan font-weight="bold">a</tspan> + <tspan font-style="italic">Tgf-β1</tspan><tspan font-size="6.6" dy="-4">+/+</tspan></text>
<text transform="translate(406.57,334.8) rotate(-90)" text-anchor="end" font-size="10.5">CD25<tspan font-size="6.6" dy="-4">+</tspan><tspan dy="4">CD4</tspan><tspan font-size="6.6" dy="-4">+</tspan></text>
<text transform="translate(462.6,334.8) rotate(-90)" text-anchor="end" font-size="10.5"><tspan font-weight="bold">a</tspan>&#160; + <tspan font-style="italic">Tgf-β1</tspan><tspan font-size="6.6" dy="-4">-/-</tspan></text>
<text transform="translate(476.7,334.8) rotate(-90)" text-anchor="end" font-size="10.5">CD25<tspan font-size="6.6" dy="-4">+</tspan><tspan dy="4">CD4</tspan><tspan font-size="6.6" dy="-4">+</tspan></text>
<text transform="translate(497.67,334.8) rotate(-90)" text-anchor="end" font-size="10.5"><tspan font-weight="bold">a</tspan> + <tspan font-style="italic">Tgf-β1</tspan><tspan font-size="6.6" dy="-4">+/+</tspan></text>
<text transform="translate(511.77,334.8) rotate(-90)" text-anchor="end" font-size="10.5">CD25<tspan font-size="6.6" dy="-4">+</tspan><tspan dy="4">CD4</tspan><tspan font-size="6.6" dy="-4">+</tspan></text>
<text transform="translate(431.43,339.5) rotate(-90)" text-anchor="end" font-size="10.5"><tspan font-weight="bold">a</tspan></text>
</svg>
</body></html>
